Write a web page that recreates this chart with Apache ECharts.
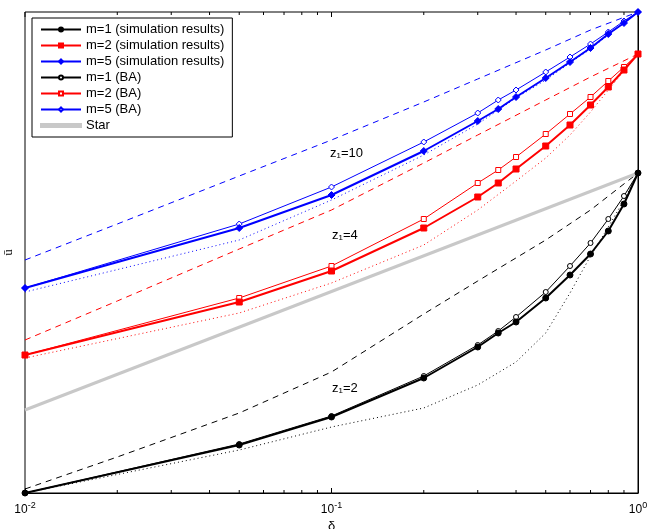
<!DOCTYPE html>
<html>
<head>
<meta charset="utf-8">
<title>u vs delta</title>
<script src="https://cdn.jsdelivr.net/npm/echarts@6/dist/echarts.min.js"></script>
</head>
<body style="margin:0">
<div id="main" style="width:659px;height:529px"></div>
<script type="text/javascript">
// delta values (x), u values (arbitrary units, 0 = bottom frame)
var deltas = [0.01, 0.05, 0.1, 0.2, 0.3, 0.35, 0.4, 0.5, 0.6, 0.7, 0.8, 0.9, 1];
var m1Sim = [0, 48, 76, 115, 146, 160, 171, 195, 218, 239, 262, 289, 320];
var m2Sim = [138, 191, 222, 265, 296, 310, 324, 347, 368, 388, 406, 423, 439];
var m5Sim = [205, 265, 298, 342, 372, 384, 396, 415, 431, 445, 459, 470, 481];
var m1BA = [0, 49, 77, 117, 148, 162, 176, 201, 227, 250, 274, 297, 320];
var m2BA = [138, 195, 227, 274, 310, 323, 336, 359, 379, 396, 412, 426, 439];
var m5BA = [205, 269, 306, 351, 380, 393, 403, 421, 436, 449, 461, 472, 481];
var dotDeltas = [0.01, 0.05, 0.1, 0.2, 0.3, 0.4, 0.5, 0.6, 0.7, 0.8, 0.9, 1];
var m1Dot = [0, 43, 66, 85, 108, 131, 160, 200, 237, 266, 293, 320];
var m2Dot = [135, 180, 210, 248, 283, 312, 335, 358, 381, 403, 422, 439];
var m5Dot = [201, 253, 293, 338, 369, 395, 413, 430, 444, 458, 470, 481];
var dashDeltas = [0.01, 0.02, 0.05, 0.1, 0.2, 0.3, 0.5, 0.7, 1];
var m1Dash = [4, 36, 80, 121, 179, 212, 253, 283, 320];
var m2Dash = [153, 192, 244, 283, 330, 358, 393, 416, 439];
var m5Dash = [233, 269, 317, 353, 391, 414, 443, 463, 481];
var starDeltas = [0.01, 1];
var starVals = [83, 320];
var xTicks = [-2, -1, 0];
var minorTicks = [];
[-2, -1].forEach(function (d) {
  for (var k = 2; k <= 9; k++) minorTicks.push(d + Math.log10(k));
});

function pts(xs, ys) {
  return xs.map(function (x, i) { return [Math.log10(x), ys[i]]; });
}

var BLUE = '#0000ff', RED = '#ff0000', BLACK = '#000000';

function line(name, xs, ys, color, width, symbol, size, hollow) {
  return {
    name: name, type: 'line', data: pts(xs, ys),
    symbol: symbol, symbolSize: size, showSymbol: true,
    lineStyle: { color: color, width: width },
    itemStyle: { color: hollow ? '#fff' : color, borderColor: color, borderWidth: 1 },
    z: hollow ? 4 : 5, animation: false
  };
}
function plain(xs, ys, color, type, width) {
  return {
    type: 'line', data: pts(xs, ys), symbol: 'none',
    lineStyle: { color: color, width: width || 1, type: type }, animation: false, z: 2
  };
}

var myChart = echarts.init(document.getElementById('main'));
myChart.setOption({
  animation: false,
  grid: { left: 25, right: 21, top: 12, bottom: 36, show: true, borderColor: '#000', borderWidth: 1,
    containLabel: false, outerBoundsMode: 'none' },
  legend: {
    left: 32, top: 18, orient: 'vertical', itemGap: 3, itemWidth: 40, itemHeight: 5,
    backgroundColor: '#fff', borderColor: '#000', borderWidth: 1, padding: [5, 8, 5, 8],
    textStyle: { fontFamily: 'Liberation Sans', fontSize: 13, color: '#000' },
    data: ['m=1 (simulation results)', 'm=2 (simulation results)', 'm=5 (simulation results)',
      'm=1 (BA)', 'm=2 (BA)', 'm=5 (BA)',
      { name: 'Star', icon: 'path://M0,0L40,0L40,3L0,3Z' }]
  },
  xAxis: {
    type: 'value', min: -2, max: 0, interval: 1,
    axisLine: { lineStyle: { color: '#000' } },
    axisTick: { inside: true, length: 5, lineStyle: { color: '#000' } },
    splitLine: { show: false },
    axisLabel: {
      margin: 8, color: '#000', fontFamily: 'Liberation Sans',
      formatter: function (v) { return '10{s|' + v + '}'; },
      rich: { s: { fontSize: 9, verticalAlign: 'top', padding: [0, 0, 8, 0], color: '#000' } },
      fontSize: 12
    },
    name: 'δ', nameLocation: 'middle', nameGap: 21,
    nameTextStyle: { color: '#000', fontSize: 13, fontFamily: 'Liberation Sans' }
  },
  yAxis: {
    type: 'value', min: 0, max: 481,
    axisLine: { lineStyle: { color: '#000' } }, axisTick: { show: false },
    axisLabel: { show: false }, splitLine: { show: false },
    name: 'ū', nameLocation: 'middle', nameGap: 10, nameRotate: 90,
    nameTextStyle: { color: '#000', fontSize: 13, fontFamily: 'Liberation Serif' }
  },
  graphic: [
    { type: 'text', left: 330, top: 147, style: { text: 'z₁=10', font: '13px Liberation Sans', fill: '#000' } },
    { type: 'text', left: 332, top: 229, style: { text: 'z₁=4', font: '13px Liberation Sans', fill: '#000' } },
    { type: 'text', left: 332, top: 382, style: { text: 'z₁=2', font: '13px Liberation Sans', fill: '#000' } }
  ],
  series: [
    {
      type: 'custom', silent: true, animation: false, z: 1,
      data: minorTicks.map(function (t) { return [t]; }),
      renderItem: function (params, api) {
        var pb = api.coord([api.value(0), 0]);
        var pt = api.coord([api.value(0), 481]);
        return { type: 'group', children: [
          { type: 'line', shape: { x1: pb[0], y1: pb[1], x2: pb[0], y2: pb[1] - 3 }, style: { stroke: '#000', lineWidth: 1 } },
          { type: 'line', shape: { x1: pt[0], y1: pt[1], x2: pt[0], y2: pt[1] + 3 }, style: { stroke: '#000', lineWidth: 1 } }
        ] };
      }
    },
    {
      type: 'custom', silent: true, animation: false, z: 1,
      data: xTicks.map(function (t) { return [t]; }),
      renderItem: function (params, api) {
        var pt = api.coord([api.value(0), 481]);
        return { type: 'line', shape: { x1: pt[0], y1: pt[1], x2: pt[0], y2: pt[1] + 5 }, style: { stroke: '#000', lineWidth: 1 } };
      }
    },
    line('Star', starDeltas, starVals, '#c8c8c8', 3, 'none', 0, false),
    plain(dashDeltas, m1Dash, BLACK, [6, 5]),
    plain(dashDeltas, m2Dash, RED, [6, 5]),
    plain(dashDeltas, m5Dash, BLUE, [6, 5]),
    plain(dotDeltas, m1Dot, BLACK, [1, 3]),
    plain(dotDeltas, m2Dot, RED, [1, 3]),
    plain(dotDeltas, m5Dot, BLUE, [1, 3]),
    line('m=1 (BA)', deltas, m1BA, BLACK, 1, 'circle', 5, true),
    line('m=2 (BA)', deltas, m2BA, RED, 1, 'rect', 5, true),
    line('m=5 (BA)', deltas, m5BA, BLUE, 1, 'diamond', 6, true),
    line('m=1 (simulation results)', deltas, m1Sim, BLACK, 2, 'circle', 6, false),
    line('m=2 (simulation results)', deltas, m2Sim, RED, 2, 'rect', 6, false),
    line('m=5 (simulation results)', deltas, m5Sim, BLUE, 2, 'diamond', 7, false)
  ]
});
</script>
</body>
</html>
